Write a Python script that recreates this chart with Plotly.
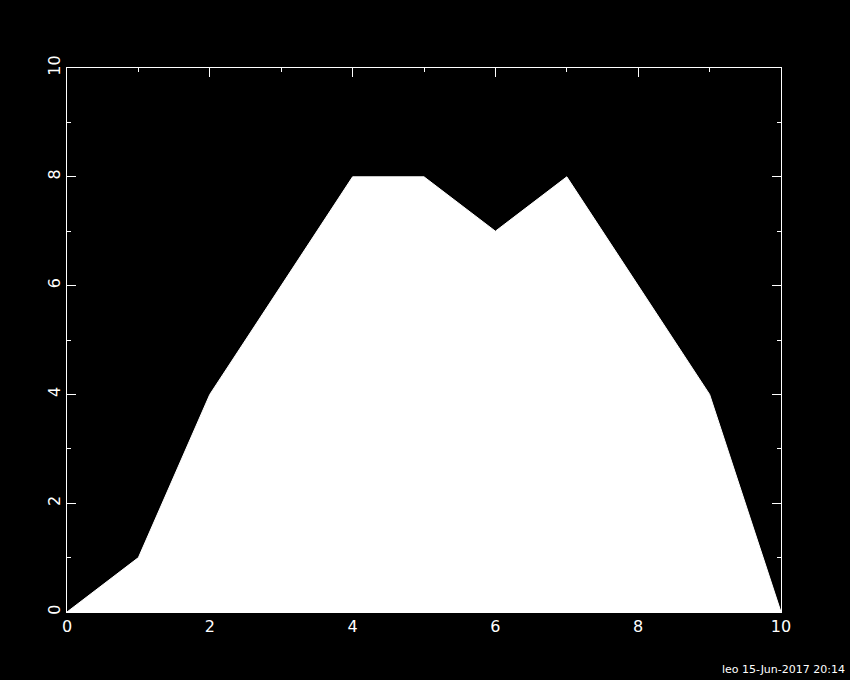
import plotly.graph_objects as go

# polygon vertices
x_vals = [0, 1, 2, 3, 4, 5, 6, 7, 8, 9, 10]
y_vals = [0, 1, 4, 6, 8, 8, 7, 8, 6, 4, 0]
stamp = "leo 15-Jun-2017 20:14"

fig = go.Figure()
fig.add_trace(go.Scatter(x=x_vals, y=y_vals, mode="lines", fill="tozeroy",
                         fillcolor="white", line=dict(color="white", width=1),
                         hoverinfo="skip"))

axis_style = dict(range=[0, 10], showgrid=False, zeroline=False,
                  showline=True, linecolor="white", linewidth=1, mirror="ticks",
                  ticks="inside", ticklen=9, tickwidth=1, tickcolor="white",
                  dtick=2, tick0=0,
                  minor=dict(ticks="inside", ticklen=4, dtick=1, tickcolor="white", tickwidth=1),
                  tickfont=dict(family="DejaVu Sans", size=16, color="white"))

fig.update_xaxes(**axis_style)
fig.update_yaxes(**axis_style, tickangle=-90)

fig.add_annotation(text=stamp, xref="paper", yref="paper", x=1.092, y=-0.105,
                   xanchor="right", yanchor="middle", showarrow=False,
                   font=dict(family="DejaVu Sans", size=11, color="white"))

fig.update_layout(width=850, height=680, paper_bgcolor="black", plot_bgcolor="black",
                  margin=dict(l=67, r=69, t=68, b=68), showlegend=False)

fig.write_html("out.html", config={"displayModeBar": False},
               post_script="document.body.style.margin='0';document.body.style.background='black';")
